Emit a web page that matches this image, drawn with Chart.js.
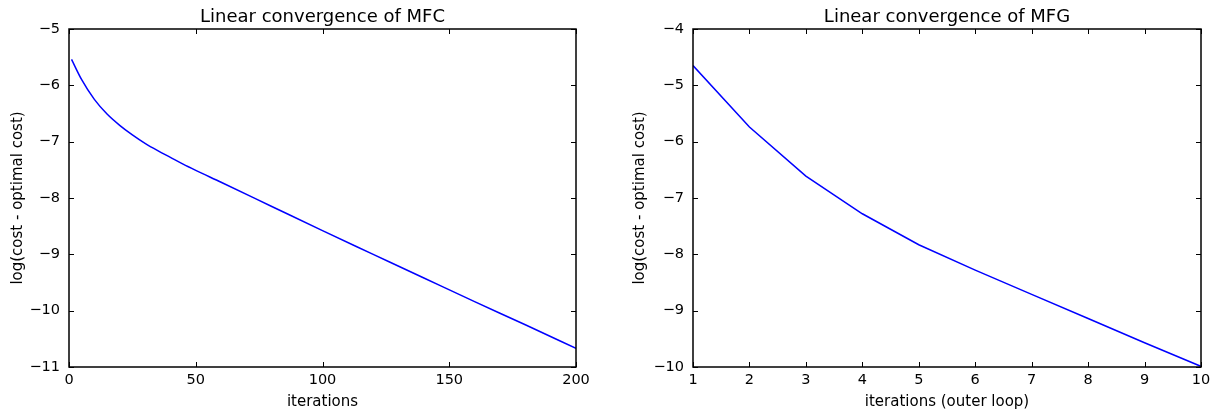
<!DOCTYPE html>
<html>
<head>
<meta charset="utf-8">
<script src="https://cdn.jsdelivr.net/npm/chart.js@4"></script>
<style>
  html, body { margin: 0; padding: 0; background: #fff; }
  .panel { position: absolute; top: 0; height: 413px; }
</style>
</head>
<body>
<div class="panel" style="left:0;width:609px"><canvas id="mfcChart" width="609" height="413"></canvas></div>
<div class="panel" style="left:609px;width:609px"><canvas id="mfgChart" width="609" height="413"></canvas></div>
<script>
// Data
const mfcIters = [1, 5, 10, 15, 20, 25, 30, 35, 40, 45, 50, 60, 80, 100, 120, 140, 160, 180, 200];
const mfcLogGap = [-5.54, -5.90, -6.25, -6.51, -6.71, -6.88, -7.03, -7.16, -7.28, -7.40, -7.51, -7.72, -8.15, -8.58, -9.00, -9.42, -9.84, -10.25, -10.67];
const mfcXTicks = [0, 50, 100, 150, 200];
const mfcYTicks = [-11, -10, -9, -8, -7, -6, -5];

const mfgIters = [1, 2, 3, 4, 5, 6, 7, 8, 9, 10];
const mfgLogGap = [-4.65, -5.74, -6.61, -7.28, -7.83, -8.28, -8.71, -9.14, -9.57, -9.99];
const mfgXTicks = [1, 2, 3, 4, 5, 6, 7, 8, 9, 10];
const mfgYTicks = [-10, -9, -8, -7, -6, -5, -4];

const FONT = "'DejaVu Sans', sans-serif";
const minus = v => (v < 0 ? '\u2212' : '') + Math.abs(v);

// matplotlib-style box with inward ticks + title over the plot area
const framePlugin = {
    id: 'frame',
    afterDraw(chart, args, opts) {
        const { ctx, chartArea: a, scales } = chart;
        const tl = 5;
        ctx.save();
        ctx.strokeStyle = '#000';
        ctx.lineWidth = 1;
        ctx.beginPath();
        scales.x.ticks.forEach(t => {
            const px = Math.round(scales.x.getPixelForValue(t.value)) + 0.5;
            ctx.moveTo(px, a.bottom); ctx.lineTo(px, a.bottom - tl);
            ctx.moveTo(px, a.top); ctx.lineTo(px, a.top + tl);
        });
        scales.y.ticks.forEach(t => {
            const py = Math.round(scales.y.getPixelForValue(t.value)) + 0.5;
            ctx.moveTo(a.left, py); ctx.lineTo(a.left + tl, py);
            ctx.moveTo(a.right, py); ctx.lineTo(a.right - tl, py);
        });
        ctx.stroke();
        ctx.lineWidth = 1.5;
        ctx.strokeRect(a.left, a.top, a.right - a.left, a.bottom - a.top);
        ctx.fillStyle = '#000';
        ctx.font = '18px ' + FONT;
        ctx.textAlign = 'center';
        ctx.textBaseline = 'alphabetic';
        ctx.fillText(opts.text, (a.left + a.right) / 2, 22);
        ctx.restore();
    }
};

function makeChart(id, xs, ys, xTicks, yTicks, cfg) {
    const ctx = document.getElementById(id).getContext('2d');
    return new Chart(ctx, {
        type: 'line',
        data: {
            datasets: [{
                data: xs.map((x, i) => ({ x: x, y: ys[i] })),
                borderColor: '#0000ff',
                borderWidth: 1.5,
                pointRadius: 0,
                fill: false,
                cubicInterpolationMode: cfg.smooth ? 'monotone' : 'default',
                tension: 0
            }]
        },
        options: {
            responsive: false,
            animation: false,
            devicePixelRatio: 1,
            layout: { padding: { top: 29, right: cfg.padRight, bottom: 0, left: 0 } },
            plugins: {
                legend: { display: false },
                tooltip: { enabled: false },
                frame: { text: cfg.title }
            },
            scales: {
                x: {
                    type: 'linear',
                    min: xTicks[0],
                    max: xTicks[xTicks.length - 1],
                    afterBuildTicks: s => { s.ticks = xTicks.map(v => ({ value: v })); },
                    afterFit: s => { s.height = 46; },
                    grid: { display: false, drawTicks: false, tickLength: 0 },
                    border: { display: false },
                    ticks: { padding: 5, color: '#000', font: { family: FONT, size: 14.5 }, maxRotation: 0, callback: minus },
                    title: { display: true, text: cfg.xLabel, color: '#000', font: { family: FONT, size: 15 }, padding: { top: 0, bottom: 2 } }
                },
                y: {
                    type: 'linear',
                    min: yTicks[0],
                    max: yTicks[yTicks.length - 1],
                    afterBuildTicks: s => { s.ticks = yTicks.map(v => ({ value: v })); },
                    afterFit: s => { s.width = cfg.yWidth; },
                    grid: { display: false, drawTicks: false, tickLength: 0 },
                    border: { display: false },
                    ticks: { padding: 9, color: '#000', font: { family: FONT, size: 14.5 }, callback: minus },
                    title: { display: true, text: 'log(cost - optimal cost)', color: '#000', font: { family: FONT, size: 15 }, padding: { top: cfg.yTitlePad, bottom: 0 } }
                }
            }
        },
        plugins: [framePlugin]
    });
}

makeChart('mfcChart', mfcIters, mfcLogGap, mfcXTicks, mfcYTicks, {
    title: 'Linear convergence of MFC',
    xLabel: 'iterations',
    yWidth: 69,
    yTitlePad: 9,
    padRight: 33,
    smooth: true
});

makeChart('mfgChart', mfgIters, mfgLogGap, mfgXTicks, mfgYTicks, {
    title: 'Linear convergence of MFG',
    xLabel: 'iterations (outer loop)',
    yWidth: 84,
    yTitlePad: 22,
    padRight: 17,
    smooth: false
});
</script>
</body>
</html>
